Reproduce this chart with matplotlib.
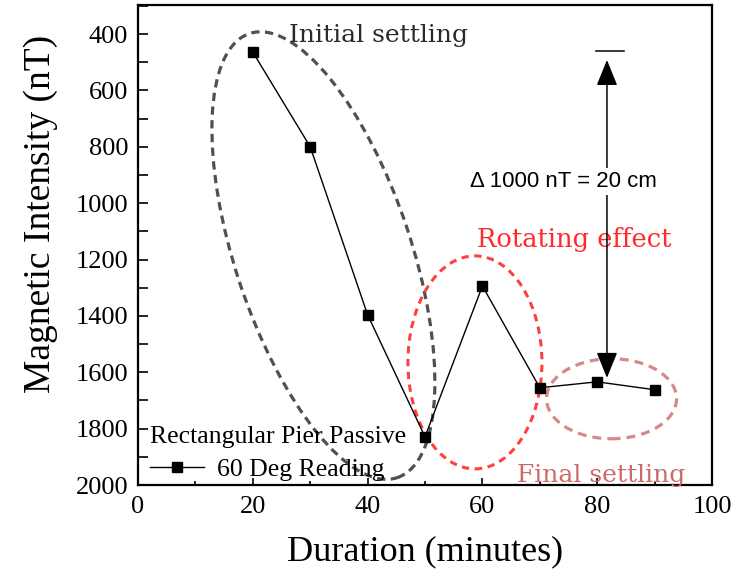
import matplotlib
matplotlib.use("Agg")
import matplotlib.pyplot as plt
from matplotlib.patches import Ellipse
from matplotlib.transforms import ScaledTranslation
from matplotlib.ticker import MultipleLocator

# ---- data ----
duration = [20, 30, 40, 50, 60, 70, 80, 90]
intensity = [464, 800, 1396, 1829, 1294, 1655, 1634, 1662]
series_label = "60 Deg Reading"
legend_title = "Rectangular Pier Passive"
x_ticks = [0, 20, 40, 60, 80, 100]
y_ticks = [400, 600, 800, 1000, 1200, 1400, 1600, 1800, 2000]

SERIF = ["Liberation Serif", "DejaVu Serif"]
ANN = ["DejaVu Serif"]

fig = plt.figure(figsize=(7.42, 5.80), dpi=100)
ax = fig.add_axes([138 / 742, 95 / 580, 574 / 742, 480 / 580])

ax.plot(duration, intensity, color="black", lw=1.0, marker="s", ms=7,
        mfc="black", mec="black", label=series_label, zorder=5)

ax.set_xlim(0, 100)
ax.set_ylim(2000, 297)
ax.set_xticks(x_ticks)
ax.set_yticks(y_ticks)
ax.xaxis.set_minor_locator(MultipleLocator(10))
ax.yaxis.set_minor_locator(MultipleLocator(100))
ax.tick_params(axis="both", which="both", direction="in", width=1.2,
               top=False, right=False)
ax.tick_params(axis="x", which="major", length=5, pad=8)
ax.tick_params(axis="x", which="minor", length=3)
ax.tick_params(axis="y", which="major", length=7, pad=7)
ax.tick_params(axis="y", which="minor", length=7)
for lab in ax.get_xticklabels() + ax.get_yticklabels():
    lab.set_fontfamily(SERIF)
    lab.set_fontsize(19)
for s in ax.spines.values():
    s.set_linewidth(1.6)

ax.set_xlabel("Duration (minutes)", fontfamily=SERIF, fontsize=26)
ax.set_ylabel("Magnetic Intensity (nT)", fontfamily=SERIF, fontsize=27)
ax.xaxis.set_label_coords(0.5, -0.105)
ax.yaxis.set_label_coords(-0.14, 0.565)


def px_ellipse(cx, cy, w_px, h_px, angle, color, lw, dash):
    trans = fig.dpi_scale_trans + ScaledTranslation(cx, cy, ax.transData)
    e = Ellipse((0, 0), width=w_px / 100, height=h_px / 100, angle=angle,
                transform=trans, fill=False, edgecolor=color, lw=lw,
                linestyle=(0, dash), clip_on=False, zorder=3)
    ax.add_patch(e)


px_ellipse(32.3, 1186, 176, 468, 18.4, "#505050", 2.3, (2.6, 1.7))
px_ellipse(58.7, 1565, 134, 213, 0, "#ff4040", 2.2, (2.4, 1.8))
px_ellipse(82.5, 1694, 130, 80, 0, "#d48a8a", 2.3, (2.8, 1.9))

ax.text(26.3, 428, "Initial settling", fontfamily=ANN, fontsize=18,
        color="#2a2a2a", va="baseline", ha="left")
ax.text(59.1, 1155, "Rotating effect", fontfamily=ANN, fontsize=18.5,
        color="#ff2a2a", va="baseline", ha="left", clip_on=False)
ax.text(66.0, 1989, "Final settling", fontfamily=ANN, fontsize=18,
        color="#cc6a6a", va="baseline", ha="left", clip_on=False)

# scale arrow
arrow_x = 81.7
ax.annotate("", xy=(arrow_x, 1620), xytext=(arrow_x, 492),
            arrowprops=dict(arrowstyle="<|-|>,head_length=16,head_width=6.5",
                            mutation_scale=1, color="black", lw=1.1,
                            shrinkA=0, shrinkB=0), zorder=4)
ax.plot([79.8, 84.6], [460, 460], color="black", lw=1.1)
ax.text(57.8, 943, "\u0394 1000 nT = 20 cm", fontfamily=["Liberation Sans"],
        fontsize=16, va="baseline", ha="left", zorder=6,
        bbox=dict(facecolor="white", edgecolor="none", pad=2))

leg = ax.legend(title=legend_title, loc="lower left",
                bbox_to_anchor=(0.021, 0.008), frameon=False,
                prop={"family": SERIF, "size": 18.5},
                title_fontproperties={"family": SERIF, "size": 18.5},
                handlelength=2.1, handletextpad=0.5, borderpad=0,
                borderaxespad=0, labelspacing=0.2)
leg._legend_box.align = "left"
leg._legend_box.sep = 7

fig.savefig("out.png", dpi=100)
